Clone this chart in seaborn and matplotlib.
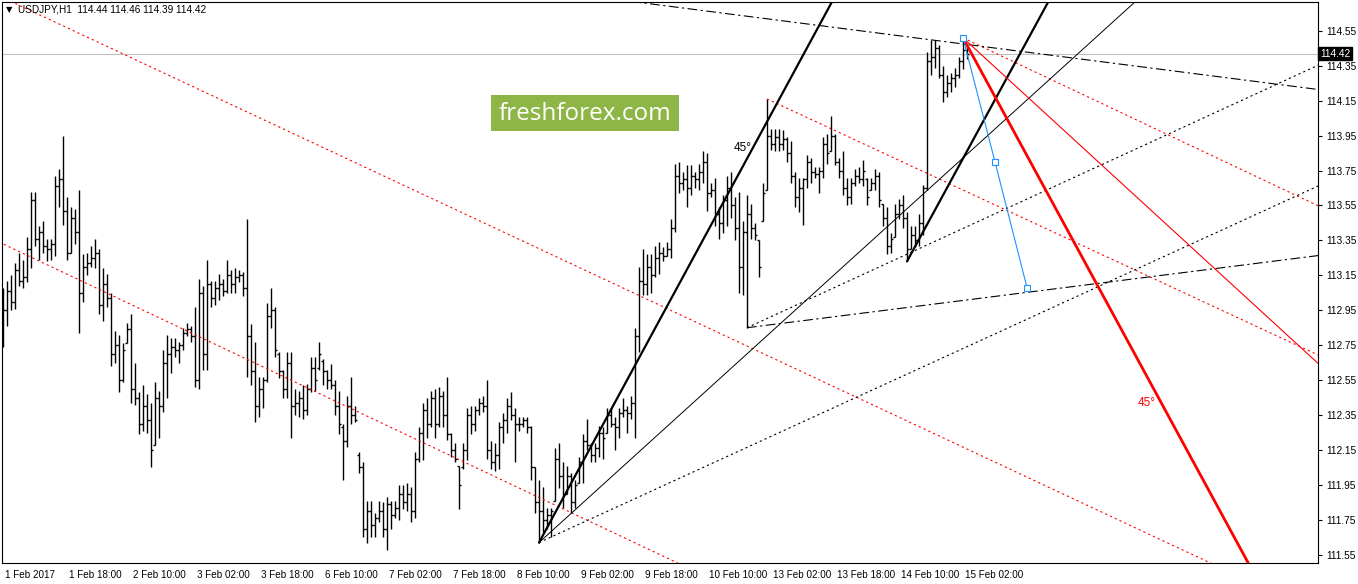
import matplotlib
matplotlib.use("Agg")
import matplotlib.pyplot as plt
import matplotlib.transforms as mtransforms
from matplotlib.patches import Rectangle
import numpy as np
import seaborn as sns

# USDJPY H1 bars, 1 Feb 02:00 .. 15 Feb 03:00 (16 bars per row)
bar_high = [
    113.08, 113.12, 113.15, 113.22, 113.28, 113.24, 113.37, 113.63, 113.63, 113.43, 113.46, 113.36, 113.36, 113.72, 113.76, 113.95,
    113.60, 113.54, 113.53, 113.64, 113.27, 113.28, 113.32, 113.36, 113.30, 113.19, 113.16, 113.05, 112.83, 112.81, 112.76, 112.88,
    112.93, 112.65, 112.48, 112.52, 112.47, 112.42, 112.54, 112.49, 112.72, 112.81, 112.79, 112.79, 112.77, 112.85, 112.88, 112.86,
    112.97, 113.13, 113.09, 113.24, 113.12, 113.12, 113.16, 113.13, 113.24, 113.18, 113.19, 113.18, 113.17, 113.47, 112.87, 112.77,
    112.57, 112.57, 112.99, 113.08, 112.97, 112.71, 112.61, 112.71, 112.71, 112.50, 112.49, 112.52, 112.53, 112.68, 112.68, 112.77,
    112.67, 112.61, 112.64, 112.55, 112.49, 112.30, 112.46, 112.57, 112.40, 112.14, 112.08, 111.86, 111.86, 111.79, 111.86, 111.85,
    111.88, 111.86, 111.86, 111.95, 111.95, 111.96, 111.94, 112.14, 112.28, 112.42, 112.45, 112.49, 112.50, 112.51, 112.49, 112.57,
    112.25, 112.19, 112.06, 112.19, 112.39, 112.40, 112.40, 112.45, 112.46, 112.55, 112.20, 112.19, 112.31, 112.36, 112.45, 112.48,
    112.39, 112.34, 112.34, 112.34, 112.29, 112.05, 111.98, 111.94, 111.82, 111.82, 112.16, 112.19, 112.08, 112.06, 112.02, 111.98,
    112.11, 112.24, 112.33, 112.19, 112.19, 112.29, 112.28, 112.39, 112.39, 112.34, 112.39, 112.45, 112.40, 112.46, 112.85, 113.20,
    113.30, 113.27, 113.27, 113.32, 113.34, 113.31, 113.34, 113.47, 113.79, 113.80, 113.74, 113.78, 113.78, 113.74, 113.79, 113.86,
    113.85, 113.68, 113.71, 113.54, 113.61, 113.72, 113.74, 113.60, 113.63, 113.46, 113.61, 113.56, 113.45, 113.35, 113.68, 114.16,
    113.99, 113.99, 113.99, 113.98, 113.94, 113.92, 113.74, 113.71, 113.71, 113.84, 113.82, 113.77, 113.77, 113.94, 113.96, 114.06,
    113.96, 113.82, 113.86, 113.71, 113.71, 113.76, 113.77, 113.81, 113.71, 113.71, 113.76, 113.74, 113.56, 113.54, 113.39, 113.56,
    113.59, 113.61, 113.51, 113.43, 113.43, 113.50, 113.67, 114.43, 114.50, 114.50, 114.47, 114.35, 114.30, 114.31, 114.34, 114.40,
    114.51, 114.46,
]
bar_low = [
    112.74, 112.86, 112.95, 112.96, 113.09, 113.08, 113.11, 113.19, 113.32, 113.24, 113.28, 113.23, 113.24, 113.26, 113.54, 113.44,
    113.24, 113.28, 113.33, 112.82, 113.00, 113.15, 113.20, 113.19, 112.93, 112.89, 112.97, 112.63, 112.65, 112.48, 112.54, 112.76,
    112.42, 112.41, 112.24, 112.26, 112.25, 112.05, 112.18, 112.22, 112.37, 112.45, 112.59, 112.68, 112.65, 112.72, 112.80, 112.77,
    112.51, 112.50, 112.61, 112.61, 112.97, 112.98, 113.01, 113.03, 113.05, 113.05, 113.05, 113.11, 113.03, 112.57, 112.52, 112.31,
    112.34, 112.39, 112.54, 112.85, 112.68, 112.56, 112.45, 112.45, 112.22, 112.35, 112.34, 112.33, 112.35, 112.48, 112.49, 112.61,
    112.52, 112.50, 112.50, 112.35, 112.24, 111.98, 112.17, 112.30, 112.31, 112.02, 111.65, 111.62, 111.65, 111.65, 111.74, 111.65,
    111.58, 111.70, 111.76, 111.75, 111.81, 111.80, 111.74, 111.76, 112.08, 112.09, 112.22, 112.28, 112.22, 112.28, 112.28, 112.21,
    112.11, 112.08, 111.81, 112.04, 112.09, 112.24, 112.26, 112.35, 112.37, 112.10, 112.04, 112.03, 112.04, 112.19, 112.25, 112.32,
    112.08, 112.26, 112.28, 112.25, 111.98, 111.79, 111.62, 111.68, 111.70, 111.65, 111.86, 111.93, 111.82, 111.90, 111.79, 111.82,
    111.96, 111.96, 112.15, 112.08, 112.08, 112.11, 112.10, 112.25, 112.28, 112.15, 112.22, 112.34, 112.25, 112.33, 112.22, 112.71,
    113.04, 113.04, 113.05, 113.14, 113.16, 113.23, 113.26, 113.25, 113.40, 113.62, 113.64, 113.54, 113.61, 113.65, 113.64, 113.68,
    113.52, 113.60, 113.43, 113.36, 113.39, 113.43, 113.48, 113.35, 113.05, 113.04, 112.85, 113.36, 113.35, 113.14, 113.46, 113.64,
    113.87, 113.86, 113.86, 113.87, 113.80, 113.68, 113.54, 113.51, 113.44, 113.65, 113.68, 113.71, 113.62, 113.71, 113.79, 113.86,
    113.78, 113.71, 113.61, 113.55, 113.56, 113.66, 113.68, 113.66, 113.55, 113.64, 113.64, 113.54, 113.43, 113.27, 113.28, 113.37,
    113.47, 113.42, 113.23, 113.30, 113.31, 113.32, 113.38, 113.64, 114.30, 114.34, 114.28, 114.14, 114.17, 114.20, 114.23, 114.28,
    114.33, 114.39,
]
bar_open = [
    112.80, 112.95, 113.06, 113.00, 113.18, 113.12, 113.14, 113.30, 113.58, 113.36, 113.40, 113.32, 113.30, 113.33, 113.66, 113.70,
    113.52, 113.28, 113.48, 113.40, 113.05, 113.20, 113.22, 113.25, 113.28, 112.98, 113.10, 113.02, 112.70, 112.75, 112.55, 112.76,
    112.84, 112.50, 112.45, 112.30, 112.40, 112.32, 112.18, 112.45, 112.40, 112.65, 112.70, 112.74, 112.72, 112.75, 112.82, 112.84,
    112.80, 112.55, 113.05, 112.70, 113.10, 113.02, 113.08, 113.10, 113.06, 113.15, 113.10, 113.14, 113.15, 113.08, 112.80, 112.60,
    112.40, 112.50, 112.55, 112.92, 112.95, 112.70, 112.60, 112.50, 112.65, 112.40, 112.42, 112.45, 112.38, 112.50, 112.62, 112.62,
    112.66, 112.60, 112.55, 112.52, 112.40, 112.28, 112.20, 112.40, 112.35, 112.12, 112.05, 111.70, 111.80, 111.72, 111.76, 111.80,
    111.70, 111.84, 111.78, 111.82, 111.90, 111.85, 111.90, 111.80, 112.10, 112.25, 112.38, 112.30, 112.45, 112.30, 112.46, 112.35,
    112.24, 112.15, 112.06, 112.05, 112.15, 112.35, 112.30, 112.38, 112.42, 112.40, 112.15, 112.08, 112.12, 112.28, 112.32, 112.40,
    112.35, 112.30, 112.30, 112.32, 112.28, 112.05, 111.85, 111.80, 111.75, 111.78, 111.86, 112.10, 112.00, 111.90, 112.00, 111.85,
    111.96, 112.08, 112.20, 112.18, 112.12, 112.16, 112.25, 112.25, 112.35, 112.30, 112.28, 112.36, 112.38, 112.36, 112.42, 112.80,
    113.12, 113.10, 113.20, 113.15, 113.25, 113.28, 113.26, 113.30, 113.42, 113.72, 113.68, 113.70, 113.65, 113.72, 113.70, 113.74,
    113.80, 113.62, 113.64, 113.50, 113.45, 113.58, 113.65, 113.55, 113.42, 113.20, 113.40, 113.50, 113.42, 113.35, 113.46, 113.64,
    113.95, 113.90, 113.94, 113.90, 113.93, 113.85, 113.72, 113.60, 113.65, 113.70, 113.80, 113.74, 113.73, 113.75, 113.90, 113.86,
    113.95, 113.80, 113.75, 113.65, 113.60, 113.68, 113.72, 113.70, 113.70, 113.64, 113.68, 113.72, 113.56, 113.48, 113.32, 113.37,
    113.50, 113.55, 113.48, 113.30, 113.38, 113.35, 113.45, 113.65, 114.38, 114.40, 114.45, 114.30, 114.20, 114.25, 114.28, 114.30,
    114.38, 114.44,
]
bar_close = [
    112.95, 113.06, 113.00, 113.18, 113.12, 113.14, 113.30, 113.58, 113.36, 113.40, 113.32, 113.30, 113.33, 113.66, 113.70, 113.52,
    113.28, 113.48, 113.40, 113.05, 113.20, 113.22, 113.25, 113.28, 112.98, 113.10, 113.02, 112.70, 112.75, 112.55, 112.72, 112.84,
    112.50, 112.45, 112.30, 112.40, 112.32, 112.15, 112.45, 112.40, 112.65, 112.70, 112.74, 112.72, 112.75, 112.82, 112.84, 112.80,
    112.55, 113.05, 112.70, 113.10, 113.02, 113.08, 113.10, 113.06, 113.15, 113.10, 113.14, 113.15, 113.08, 112.80, 112.60, 112.40,
    112.50, 112.55, 112.92, 112.95, 112.72, 112.60, 112.50, 112.65, 112.40, 112.42, 112.45, 112.38, 112.50, 112.62, 112.55, 112.70,
    112.60, 112.55, 112.52, 112.40, 112.30, 112.20, 112.40, 112.35, 112.32, 112.05, 111.70, 111.80, 111.72, 111.76, 111.80, 111.70,
    111.84, 111.78, 111.82, 111.90, 111.85, 111.90, 111.80, 112.10, 112.25, 112.38, 112.30, 112.45, 112.30, 112.46, 112.35, 112.24,
    112.15, 112.10, 111.95, 112.15, 112.35, 112.30, 112.38, 112.42, 112.40, 112.15, 112.08, 112.12, 112.28, 112.32, 112.40, 112.35,
    112.30, 112.30, 112.32, 112.28, 112.05, 111.85, 111.80, 111.75, 111.78, 111.80, 112.10, 112.00, 111.90, 112.00, 111.85, 111.95,
    112.08, 112.20, 112.18, 112.12, 112.16, 112.25, 112.22, 112.35, 112.30, 112.28, 112.36, 112.38, 112.36, 112.42, 112.80, 113.12,
    113.10, 113.20, 113.15, 113.25, 113.28, 113.26, 113.30, 113.42, 113.72, 113.68, 113.70, 113.65, 113.72, 113.70, 113.74, 113.80,
    113.62, 113.64, 113.50, 113.45, 113.58, 113.65, 113.55, 113.42, 113.20, 113.40, 113.50, 113.42, 113.38, 113.20, 113.62, 113.95,
    113.90, 113.94, 113.90, 113.93, 113.85, 113.72, 113.60, 113.65, 113.70, 113.80, 113.74, 113.73, 113.75, 113.90, 113.85, 113.95,
    113.80, 113.75, 113.65, 113.60, 113.68, 113.72, 113.70, 113.75, 113.60, 113.68, 113.72, 113.58, 113.48, 113.32, 113.36, 113.50,
    113.55, 113.48, 113.30, 113.38, 113.35, 113.45, 113.65, 114.38, 114.40, 114.45, 114.30, 114.20, 114.25, 114.28, 114.30, 114.38,
    114.44, 114.42,
]

time_labels = ["1 Feb 2017", "1 Feb 18:00", "2 Feb 10:00", "3 Feb 02:00", "3 Feb 18:00",
               "6 Feb 10:00", "7 Feb 02:00", "7 Feb 18:00", "8 Feb 10:00", "9 Feb 02:00",
               "9 Feb 18:00", "10 Feb 10:00", "13 Feb 02:00", "13 Feb 18:00", "14 Feb 10:00",
               "15 Feb 02:00"]
price_ticks = [111.55, 111.75, 111.95, 112.15, 112.35, 112.55, 112.75, 112.95,
               113.15, 113.35, 113.55, 113.75, 113.95, 114.15, 114.35, 114.55]
last_price = 114.42
title_text = "USDJPY,H1  114.44 114.46 114.39 114.42"

# drawing-tool anchors (bar number, price)
low_8feb = (134, 111.62)
low_10feb = (186, 112.85)
low_14feb = (226, 113.23)
high_13feb = (191, 114.16)
top_15feb = (240, 114.51)
blue_bars = [240, 248, 256]
blue_prices = [114.51, 113.80, 113.08]

W, H = 1358, 584
sns.set_style("white")
plt.rcParams["font.family"] = ["Liberation Sans", "DejaVu Sans"]
plt.rcParams["lines.scale_dashes"] = False

fig = plt.figure(figsize=(W / 100, H / 100), dpi=100)
ax = fig.add_axes([2 / W, 1 - 563 / H, 1316 / W, 561.5 / H])
ax.set_xlim(-0.25, 328.75)
ax.set_ylim(111.503, 114.718)

idx = np.arange(len(bar_high))
ax.vlines(idx, bar_low, bar_high, color="black", lw=1.0, zorder=3)
ax.hlines(bar_open, idx - 0.45, idx, color="black", lw=1.0, zorder=3)
ax.hlines(bar_close, idx, idx + 0.45, color="black", lw=1.0, zorder=3)

ax.axhline(last_price, color="#c0c0c0", lw=0.8, zorder=1)


def ray(p0, p1, x_start, x_end=335):
    k = (p1[1] - p0[1]) / (p1[0] - p0[0])
    xs = [x_start, x_end]
    return xs, [p0[1] + k * (x - p0[0]) for x in xs]


dot = (0, (1.6, 2.2))
dashdot = (0, (7, 2.5, 1.6, 2.5))

# red channel (dotted)
for p0, p1, start in [((55, 114.15), (235, 112.22), -5),
                      ((0, 113.33), (60, 112.68), -5),
                      (high_13feb, (300, 113.00), high_13feb[0]),
                      (top_15feb, (300, 113.86), top_15feb[0])]:
    xs, ys = ray(p0, p1, start)
    ax.plot(xs, ys, color="red", lw=0.8, linestyle=dot, zorder=4)

# black fan from the 8 Feb low
xs, ys = ray(low_8feb, (200, 114.41), low_8feb[0])
ax.plot(xs, ys, color="black", lw=1.6, zorder=5)
xs, ys = ray(low_8feb, (250, 114.03), low_8feb[0])
ax.plot(xs, ys, color="black", lw=0.7, zorder=5)
xs, ys = ray(low_8feb, (300, 113.36), low_8feb[0])
ax.plot(xs, ys, color="black", lw=0.8, linestyle=dot, zorder=5)

# from the 10 Feb low
xs, ys = ray(low_10feb, (300, 114.05), low_10feb[0])
ax.plot(xs, ys, color="black", lw=0.8, linestyle=dot, zorder=5)
xs, ys = ray(low_10feb, (300, 113.18), low_10feb[0])
ax.plot(xs, ys, color="black", lw=0.8, linestyle=dashdot, zorder=5)

# 45 deg line from the 14 Feb low
xs, ys = ray(low_14feb, (250, 114.24), low_14feb[0])
ax.plot(xs, ys, color="black", lw=1.6, zorder=5)

# upper dash-dot line
xs, ys = ray((160, 114.71), (320, 114.24), -5)
ax.plot(xs, ys, color="black", lw=0.8, linestyle=dashdot, zorder=5)

# red lines from the 15 Feb top
xs, ys = ray(top_15feb, (300, 113.25), top_15feb[0])
ax.plot(xs, ys, color="red", lw=0.8, zorder=5)
xs, ys = ray(top_15feb, (300, 111.98), top_15feb[0])
ax.plot(xs, ys, color="red", lw=2.0, zorder=5)

sns.lineplot(x=blue_bars, y=blue_prices, ax=ax, color="#1e90ff", lw=0.8, sort=False,
             marker="s", markersize=4.5, markerfacecolor="white",
             markeredgecolor="#1e90ff", markeredgewidth=0.8, zorder=6)

ax.text(185, 113.88, "45°", fontsize=8.5, color="black", ha="center", va="center", zorder=7)
ax.text(286, 112.42, "45°", fontsize=8.5, color="red", ha="center", va="center", zorder=7)

# axes styling
for s in ax.spines.values():
    s.set_visible(True)
    s.set_color("black")
    s.set_linewidth(0.8)
ax.yaxis.tick_right()
ax.set_yticks(price_ticks)
ax.set_yticklabels([f"{p:.2f}" for p in price_ticks])
ax.set_xticks(np.arange(len(time_labels)) * 16)
ax.set_xticklabels(time_labels)
ax.tick_params(axis="y", direction="out", length=3, width=0.8, labelsize=7.3, pad=3, colors="black")
ax.tick_params(axis="x", direction="out", length=3.5, width=0.8, labelsize=7.1, pad=1.5, colors="black")
shift = mtransforms.ScaledTranslation(2 / 100, 0, fig.dpi_scale_trans)
for lbl in ax.get_xticklabels():
    lbl.set_ha("left")
    lbl.set_transform(lbl.get_transform() + shift)
ax.grid(False)

# last price box on the scale
ax.text(1.0015, last_price, f"{last_price:.2f}", transform=ax.get_yaxis_transform(),
        fontsize=7.3, color="white", ha="left", va="center", zorder=8,
        bbox=dict(boxstyle="square,pad=0.15", fc="black", ec="black"))

# title
fig.text(6 / W, 1 - 10 / H, "▼", fontsize=6, color="black", va="center", ha="left",
         family=["DejaVu Sans"])
fig.text(18 / W, 1 - 10 / H, title_text, fontsize=7.2, color="black", va="center", ha="left")

# watermark
fig.add_artist(Rectangle((491 / W, 1 - 131 / H), 188 / W, 36 / H, transform=fig.transFigure,
                         facecolor="#8db646", edgecolor="none", zorder=9))
fig.text(585 / W, 1 - 113.5 / H, "freshforex.com", fontsize=17.5, color="white",
         ha="center", va="center", family=["Open Sans", "DejaVu Sans"], zorder=10)

fig.savefig("out.png", dpi=100)
